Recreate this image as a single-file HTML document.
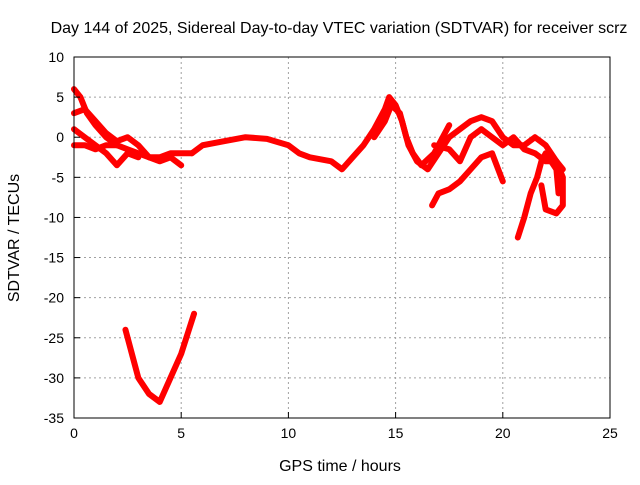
<!DOCTYPE html>
<html><head><meta charset="utf-8"><style>
body{margin:0;background:#fff}
svg text{font-family:"Liberation Sans",sans-serif;font-size:14px;fill:#000}
svg text.big{font-size:16px}
</style></head><body>
<svg id="chart" width="640" height="480" viewBox="0 0 640 480" xmlns="http://www.w3.org/2000/svg">
<rect width="640" height="480" fill="#fff"/>
<text class="big" x="339" y="33" text-anchor="middle">Day 144 of 2025, Sidereal Day-to-day VTEC variation (SDTVAR) for receiver scrz</text>
<g id="grid"></g><g id="series"></g><g id="axes"></g>
<text class="big" x="340" y="471" text-anchor="middle">GPS time / hours</text>
<text class="big" transform="translate(19,238) rotate(-90)" text-anchor="middle">SDTVAR / TECUs</text>
</svg>
<script>
const xTicks=[0,5,10,15,20,25];
const yTicks=[10,5,0,-5,-10,-15,-20,-25,-30,-35];
const track1=[[0,6],[0.3,5],[0.6,3],[1,1.5],[1.5,0],[2,-1],[2.5,-1.5],[3,-2],[3.5,-2.5],[4,-2.5],[4.5,-2],[5,-2],[5.5,-2]];
const track2=[[0,3],[0.5,3.5],[1,2],[1.5,0.5],[2,-0.5],[2.5,0],[3,-1],[3.5,-2.5],[4,-3],[4.5,-2.5],[5,-3.5]];
const track3=[[0,1],[0.5,0],[1,-1],[1.5,-2],[2,-3.5],[2.5,-2],[3,-2.5]];
const track4=[[0,-1],[0.5,-1],[1,-1.5],[1.5,-1],[2,-1]];
const track5=[[5.5,-2],[6,-1],[7,-0.5],[8,0],[9,-0.2],[10,-1],[10.5,-2],[11,-2.5],[12,-3],[12.5,-4],[13,-2.5],[13.5,-1],[14,1],[14.5,3.5],[14.7,5],[15,4],[15.3,2],[15.6,-1],[16,-3],[16.5,-4],[17,-2],[17.5,0],[18,1],[18.5,2],[19,2.5],[19.5,2],[20,0],[20.5,-1],[21,-1],[21.5,0],[22,-1],[22.5,-3],[22.8,-4]];
const track6=[[14,0],[14.5,2],[14.8,4],[15.2,3],[15.5,0],[15.8,-2],[16.2,-3.5],[16.8,-2],[17.2,0],[17.5,1.5]];
const track7=[[16.8,-1],[17.5,-1.5],[18,-3],[18.5,0],[19,1],[19.5,0],[20,-1],[20.5,0],[21,-1.5],[21.5,-2],[22,-3],[22.5,-3],[22.8,-5],[22.8,-8.5],[22.5,-9.5],[22,-9],[21.8,-6]];
const track8=[[16.7,-8.5],[17,-7],[17.5,-6.5],[18,-5.5],[18.5,-4],[19,-2.5],[19.5,-2],[20,-5.5]];
const track9=[[20.7,-12.5],[21,-10],[21.3,-7],[21.6,-5],[21.8,-3],[22,-2],[22.5,-4],[22.6,-7]];
const track10=[[2.4,-24],[2.7,-27],[3,-30],[3.5,-32],[4,-33],[4.5,-30],[5,-27],[5.3,-24.5],[5.6,-22]];
const tracks=[track1,track2,track3,track4,track5,track6,track7,track8,track9,track10];

const L=74,R=610,T=57,B=418;
const sx=v=>L+(v-0)/25*(R-L);
const sy=v=>T+(10-v)/45*(B-T);
const NS="http://www.w3.org/2000/svg";
function mk(tag,attrs,parent){const e=document.createElementNS(NS,tag);for(const k in attrs)e.setAttribute(k,attrs[k]);parent.appendChild(e);return e;}
const grid=document.getElementById('grid'),axes=document.getElementById('axes'),ser=document.getElementById('series');
xTicks.forEach(t=>{
  if(t>0&&t<25){const g=mk('line',{x1:sx(t),x2:sx(t),y1:T,y2:B,stroke:'#a0a0a0','stroke-dasharray':'2,3'},grid);
  
  }
  const tk=mk('line',{x1:sx(t),x2:sx(t),y1:B,y2:B-6,stroke:'#000'},axes);
  
  
  const tx=mk('text',{x:sx(t),y:B+20,'text-anchor':'middle'},axes);tx.textContent=t;
  
  
});
yTicks.forEach(t=>{
  if(t<10&&t>-35){const g=mk('line',{x1:L,x2:R,y1:sy(t),y2:sy(t),stroke:'#a0a0a0','stroke-dasharray':'2,3'},grid);
  
  }
  const tk=mk('line',{x1:L,x2:L+6,y1:sy(t),y2:sy(t),stroke:'#000'},axes);
  
  
  const tx=mk('text',{x:L-10,y:sy(t)+5,'text-anchor':'end'},axes);tx.textContent=t;
  
  
});
const fr=mk('rect',{x:L,y:T,width:R-L,height:B-T,fill:'none',stroke:'#000'},axes);


tracks.forEach(tr=>{
  const p=mk('polyline',{points:tr.map(d=>sx(d[0])+','+sy(d[1])).join(' '),fill:'none',stroke:'#f00','stroke-width':6,'stroke-linejoin':'round','stroke-linecap':'round'},ser);
  
  
});
</script>
</body></html>
